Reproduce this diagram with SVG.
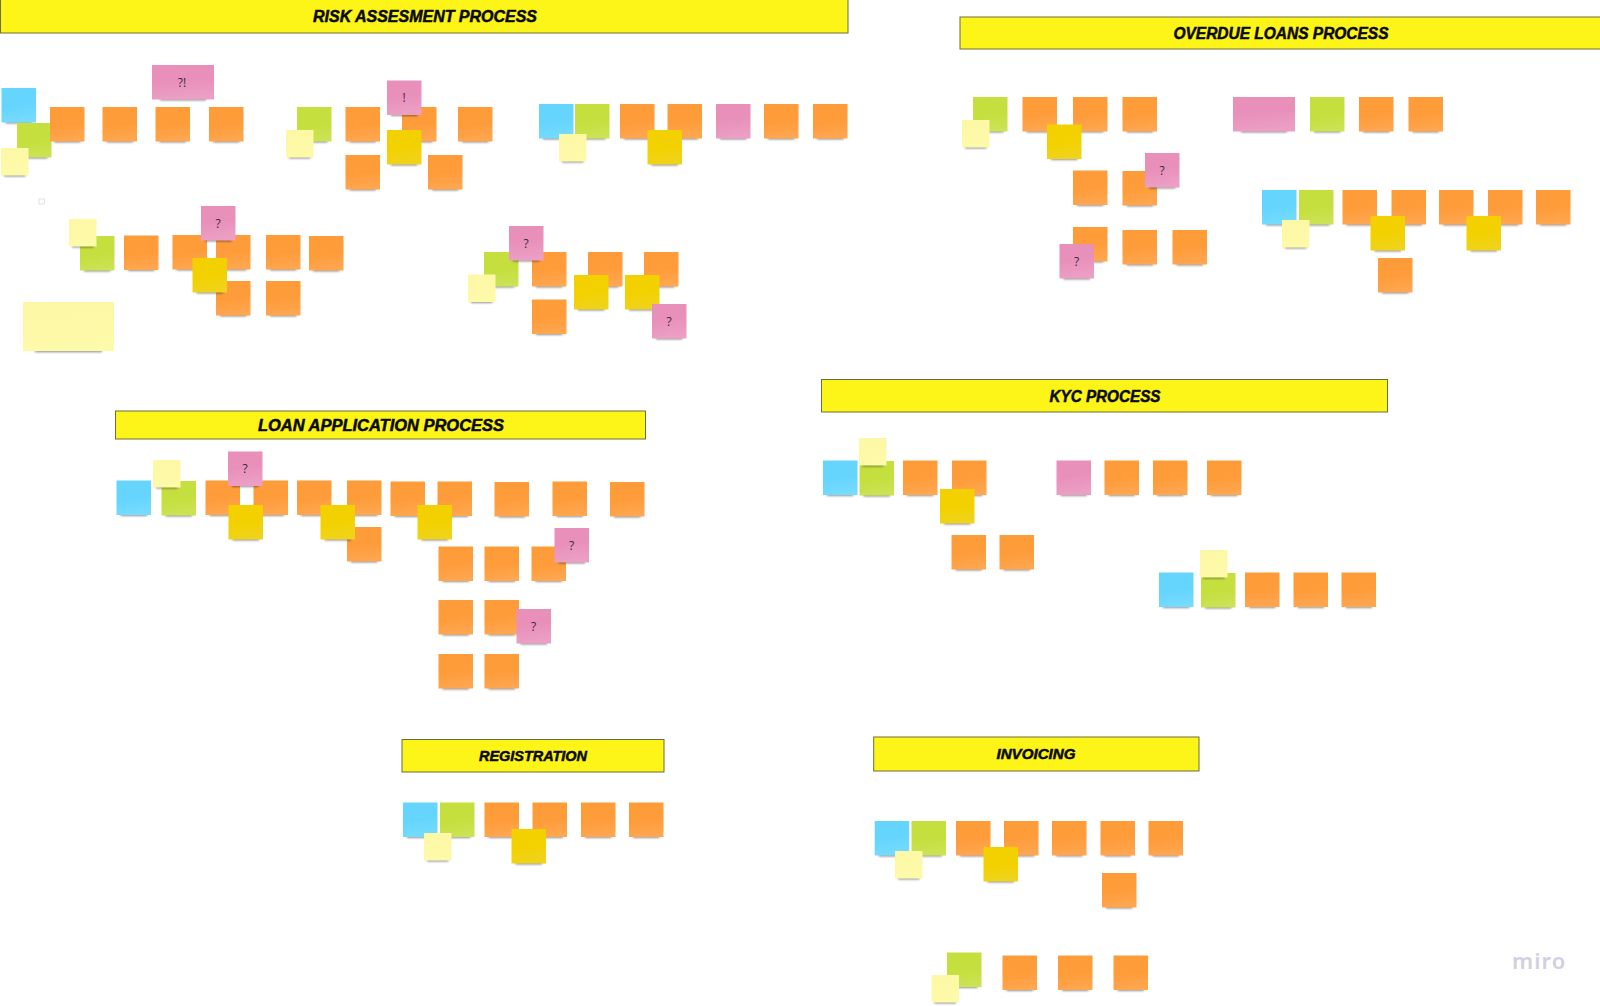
<svg xmlns="http://www.w3.org/2000/svg" width="1600" height="1006" viewBox="0 0 1600 1006">
<style>
text{font-family:"Liberation Sans",Arial,sans-serif}
.h rect{fill:#fef518;stroke:#6f6b3c;stroke-width:1}
.h text{font-size:16px;font-weight:700;font-style:italic;fill:#0a0a0a;stroke:#0a0a0a;stroke-width:.5;text-anchor:middle;dominant-baseline:central}
.q{font-family:"Open Sans","Liberation Sans",sans-serif;font-size:12px;fill:#3a2a3a;text-anchor:middle;dominant-baseline:central}
.o{fill:url(#go)}.b{fill:url(#gb)}.g{fill:url(#gg)}.l{fill:url(#gl)}.y{fill:url(#gy)}.p{fill:url(#gp)}
.sh{fill:#000;opacity:.42;filter:url(#bl)}
.m{font-family:"Noto Sans","Liberation Sans",sans-serif;font-size:22px;font-weight:600;fill:#d0d0e2;letter-spacing:1.1px}
</style>
<defs>
<filter id="bl" x="-20%" y="-100%" width="140%" height="300%"><feGaussianBlur stdDeviation="0.8"/></filter>
<linearGradient id="go" x1="0.2" y1="0" x2="0.35" y2="1"><stop offset="0.55" stop-color="#fe9c3a"/><stop offset="1" stop-color="#ffa650"/></linearGradient>
<linearGradient id="gb" x1="0.2" y1="0" x2="0.35" y2="1"><stop offset="0.55" stop-color="#66d5fd"/><stop offset="1" stop-color="#75dbff"/></linearGradient>
<linearGradient id="gg" x1="0.2" y1="0" x2="0.35" y2="1"><stop offset="0.55" stop-color="#c5df3e"/><stop offset="1" stop-color="#cbe354"/></linearGradient>
<linearGradient id="gl" x1="0.2" y1="0" x2="0.35" y2="1"><stop offset="0.3" stop-color="#fdf8a6"/><stop offset="1" stop-color="#fdfaa9"/></linearGradient>
<linearGradient id="gy" x1="0.2" y1="0" x2="0.35" y2="1"><stop offset="0.55" stop-color="#f3d100"/><stop offset="1" stop-color="#efd31c"/></linearGradient>
<linearGradient id="gp" x1="0.2" y1="0" x2="0.35" y2="1"><stop offset="0.45" stop-color="#e88fba"/><stop offset="1" stop-color="#ec9fc5"/></linearGradient>
<g id="sq"><rect class="sh" x="4" y="32.5" width="26.5" height="3"/><rect width="34.5" height="34.5"/></g>
<g id="lt"><rect class="sh" x="3" y="25.5" width="21.5" height="3"/><rect width="27.5" height="27.5"/></g>
<g id="wd"><rect class="sh" x="8" y="32.5" width="46" height="3"/><rect width="62" height="34.5"/></g>
<g id="bg"><rect class="sh" x="12" y="47" width="67" height="3.2"/><rect width="91" height="49"/></g>
</defs>
<rect width="1600" height="1006" fill="#fff"/>
<g id="connectors"/>

<g id="h-risk" class="h"><rect x="0.5" y="-1" width="847.5" height="34"/><text x="425" y="16.5" textLength="224" lengthAdjust="spacingAndGlyphs">RISK ASSESMENT PROCESS</text></g>
<g id="h-overdue" class="h"><rect x="960" y="17" width="650" height="32"/><text x="1281" y="33.5" textLength="215" lengthAdjust="spacingAndGlyphs">OVERDUE LOANS PROCESS</text></g>
<g id="h-loan" class="h"><rect x="115.5" y="411" width="530" height="28"/><text x="381" y="425" textLength="246" lengthAdjust="spacingAndGlyphs">LOAN APPLICATION PROCESS</text></g>
<g id="h-kyc" class="h"><rect x="821.5" y="379.5" width="566" height="32.5"/><text x="1105" y="396" textLength="111" lengthAdjust="spacingAndGlyphs">KYC PROCESS</text></g>
<g id="h-reg" class="h"><rect x="402" y="739.5" width="262" height="32.5"/><text x="533" y="756" style="font-size:14px" textLength="108" lengthAdjust="spacingAndGlyphs">REGISTRATION</text></g>
<g id="h-inv" class="h"><rect x="873.7" y="737" width="325.3" height="34"/><text x="1036" y="754" style="font-size:14px" textLength="79" lengthAdjust="spacingAndGlyphs">INVOICING</text></g>

<g id="r1-blue" class="b" transform="translate(1.5 88)"><use href="#sq"/></g>
<g id="r1-green" class="g" transform="translate(17 123)"><use href="#sq"/></g>
<g id="r1-note" class="l" transform="translate(1 148)"><use href="#lt"/></g>
<g id="r1-o1" class="o" transform="translate(50 107)"><use href="#sq"/></g>
<g id="r1-o2" class="o" transform="translate(102.5 107)"><use href="#sq"/></g>
<g id="r1-o3" class="o" transform="translate(155.5 107)"><use href="#sq"/></g>
<g id="r1-o4" class="o" transform="translate(209 107)"><use href="#sq"/></g>
<g id="r1-pink" class="p" transform="translate(152 65)"><use href="#wd"/><text class="q" x="30" y="17">?!</text></g>

<g id="r2-green" class="g" transform="translate(297 107)"><use href="#sq"/></g>
<g id="r2-note" class="l" transform="translate(286 130)"><use href="#lt"/></g>
<g id="r2-o1" class="o" transform="translate(345.5 107)"><use href="#sq"/></g>
<g id="r2-o2" class="o" transform="translate(402 107)"><use href="#sq"/></g>
<g id="r2-o3" class="o" transform="translate(458 107)"><use href="#sq"/></g>
<g id="r2-o4" class="o" transform="translate(345.5 155)"><use href="#sq"/></g>
<g id="r2-o5" class="o" transform="translate(428 155)"><use href="#sq"/></g>
<g id="r2-pink" class="p" transform="translate(387 80.5)"><use href="#sq"/><text class="q" x="17.2" y="17.2">!</text></g>
<g id="r2-yellow" class="y" transform="translate(387 130)"><use href="#sq"/></g>

<g id="r3-blue" class="b" transform="translate(539 104)"><use href="#sq"/></g>
<g id="r3-green" class="g" transform="translate(575 104)"><use href="#sq"/></g>
<g id="r3-note" class="l" transform="translate(559 134)"><use href="#lt"/></g>
<g id="r3-o1" class="o" transform="translate(620 104)"><use href="#sq"/></g>
<g id="r3-o2" class="o" transform="translate(667.5 104)"><use href="#sq"/></g>
<g id="r3-yellow" class="y" transform="translate(647.5 130)"><use href="#sq"/></g>
<g id="r3-pink" class="p" transform="translate(716 104)"><use href="#sq"/></g>
<g id="r3-o3" class="o" transform="translate(764 104)"><use href="#sq"/></g>
<g id="r3-o4" class="o" transform="translate(813 104)"><use href="#sq"/></g>

<g id="r4-mark"><rect x="39" y="199" width="5.5" height="5" fill="#fff" stroke="#d4d4d4" stroke-width=".7"/></g>
<g id="r4-green" class="g" transform="translate(80 236)"><use href="#sq"/></g>
<g id="r4-note" class="l" transform="translate(69 219)"><use href="#lt"/></g>
<g id="r4-o1" class="o" transform="translate(124 235.5)"><use href="#sq"/></g>
<g id="r4-o2" class="o" transform="translate(172.5 235)"><use href="#sq"/></g>
<g id="r4-o3" class="o" transform="translate(216 235)"><use href="#sq"/></g>
<g id="r4-o4" class="o" transform="translate(266 235)"><use href="#sq"/></g>
<g id="r4-o5" class="o" transform="translate(309 236)"><use href="#sq"/></g>
<g id="r4-pink" class="p" transform="translate(201 206)"><use href="#sq"/><text class="q" x="17.2" y="17.2">?</text></g>
<g id="r4-o6" class="o" transform="translate(216 281)"><use href="#sq"/></g>
<g id="r4-o7" class="o" transform="translate(266 281)"><use href="#sq"/></g>
<g id="r4-yellow" class="y" transform="translate(192.5 258)"><use href="#sq"/></g>
<g id="r4-big" class="l" transform="translate(23 302)"><use href="#bg"/></g>

<g id="r5-green" class="g" transform="translate(484 252)"><use href="#sq"/></g>
<g id="r5-note" class="l" transform="translate(468 274.5)"><use href="#lt"/></g>
<g id="r5-o1" class="o" transform="translate(532 252)"><use href="#sq"/></g>
<g id="r5-pink1" class="p" transform="translate(509 226)"><use href="#sq"/><text class="q" x="17.2" y="17.2">?</text></g>
<g id="r5-o2" class="o" transform="translate(588 252)"><use href="#sq"/></g>
<g id="r5-o3" class="o" transform="translate(644 252)"><use href="#sq"/></g>
<g id="r5-o4" class="o" transform="translate(532 299.5)"><use href="#sq"/></g>
<g id="r5-y1" class="y" transform="translate(574 275)"><use href="#sq"/></g>
<g id="r5-y2" class="y" transform="translate(625 275)"><use href="#sq"/></g>
<g id="r5-pink2" class="p" transform="translate(652 304)"><use href="#sq"/><text class="q" x="17.2" y="17.2">?</text></g>

<g id="o1-green" class="g" transform="translate(973 97)"><use href="#sq"/></g>
<g id="o1-note" class="l" transform="translate(962 120)"><use href="#lt"/></g>
<g id="o1-o1" class="o" transform="translate(1022.5 97)"><use href="#sq"/></g>
<g id="o1-o2" class="o" transform="translate(1073 97)"><use href="#sq"/></g>
<g id="o1-o3" class="o" transform="translate(1122.5 97)"><use href="#sq"/></g>
<g id="o1-yellow" class="y" transform="translate(1047 124.5)"><use href="#sq"/></g>
<g id="o1-o4" class="o" transform="translate(1073 170.5)"><use href="#sq"/></g>
<g id="o1-o5" class="o" transform="translate(1122.5 171)"><use href="#sq"/></g>
<g id="o1-pink1" class="p" transform="translate(1145 153)"><use href="#sq"/><text class="q" x="17.2" y="17.2">?</text></g>
<g id="o1-o6" class="o" transform="translate(1073 227)"><use href="#sq"/></g>
<g id="o1-pink2" class="p" transform="translate(1059.5 244)"><use href="#sq"/><text class="q" x="17.2" y="17.2">?</text></g>
<g id="o1-o7" class="o" transform="translate(1122.5 230)"><use href="#sq"/></g>
<g id="o1-o8" class="o" transform="translate(1172.5 230)"><use href="#sq"/></g>

<g id="o2-pink" class="p" transform="translate(1233 97)"><use href="#wd"/></g>
<g id="o2-green" class="g" transform="translate(1310 97)"><use href="#sq"/></g>
<g id="o2-o1" class="o" transform="translate(1359 97)"><use href="#sq"/></g>
<g id="o2-o2" class="o" transform="translate(1408.5 97)"><use href="#sq"/></g>

<g id="o3-blue" class="b" transform="translate(1262 190)"><use href="#sq"/></g>
<g id="o3-green" class="g" transform="translate(1299 190)"><use href="#sq"/></g>
<g id="o3-note" class="l" transform="translate(1282 220)"><use href="#lt"/></g>
<g id="o3-o1" class="o" transform="translate(1342.5 190)"><use href="#sq"/></g>
<g id="o3-o2" class="o" transform="translate(1391.5 190)"><use href="#sq"/></g>
<g id="o3-o3" class="o" transform="translate(1439 190)"><use href="#sq"/></g>
<g id="o3-o4" class="o" transform="translate(1488 190)"><use href="#sq"/></g>
<g id="o3-o5" class="o" transform="translate(1536 190)"><use href="#sq"/></g>
<g id="o3-y1" class="y" transform="translate(1370.5 216)"><use href="#sq"/></g>
<g id="o3-y2" class="y" transform="translate(1466.5 216)"><use href="#sq"/></g>
<g id="o3-o6" class="o" transform="translate(1378 258)"><use href="#sq"/></g>

<g id="l1-blue" class="b" transform="translate(116.5 480.5)"><use href="#sq"/></g>
<g id="l1-green" class="g" transform="translate(161.5 481)"><use href="#sq"/></g>
<g id="l1-note" class="l" transform="translate(153 460)"><use href="#lt"/></g>
<g id="l1-o1" class="o" transform="translate(205.5 480.5)"><use href="#sq"/></g>
<g id="l1-o2" class="o" transform="translate(253.5 480.5)"><use href="#sq"/></g>
<g id="l1-pink1" class="p" transform="translate(228 451.5)"><use href="#sq"/><text class="q" x="17.2" y="17.2">?</text></g>
<g id="l1-y1" class="y" transform="translate(228.5 505)"><use href="#sq"/></g>
<g id="l1-o3" class="o" transform="translate(297 480.5)"><use href="#sq"/></g>
<g id="l1-o4" class="o" transform="translate(347 480.5)"><use href="#sq"/></g>
<g id="l1-o5" class="o" transform="translate(347 527)"><use href="#sq"/></g>
<g id="l1-y2" class="y" transform="translate(320.5 505)"><use href="#sq"/></g>
<g id="l1-o6" class="o" transform="translate(390.5 481.5)"><use href="#sq"/></g>
<g id="l1-o7" class="o" transform="translate(437.5 481.5)"><use href="#sq"/></g>
<g id="l1-y3" class="y" transform="translate(417.5 505)"><use href="#sq"/></g>
<g id="l1-o8" class="o" transform="translate(494.5 482)"><use href="#sq"/></g>
<g id="l1-o9" class="o" transform="translate(552.5 481.5)"><use href="#sq"/></g>
<g id="l1-o10" class="o" transform="translate(610 482)"><use href="#sq"/></g>
<g id="l1-o11" class="o" transform="translate(438.5 546.5)"><use href="#sq"/></g>
<g id="l1-o12" class="o" transform="translate(484.5 546.5)"><use href="#sq"/></g>
<g id="l1-o13" class="o" transform="translate(531.5 546.5)"><use href="#sq"/></g>
<g id="l1-pink2" class="p" transform="translate(554.5 528)"><use href="#sq"/><text class="q" x="17.2" y="17.2">?</text></g>
<g id="l1-o14" class="o" transform="translate(438.5 600)"><use href="#sq"/></g>
<g id="l1-o15" class="o" transform="translate(484.5 600)"><use href="#sq"/></g>
<g id="l1-pink3" class="p" transform="translate(516.5 609)"><use href="#sq"/><text class="q" x="17.2" y="17.2">?</text></g>
<g id="l1-o16" class="o" transform="translate(438.5 654)"><use href="#sq"/></g>
<g id="l1-o17" class="o" transform="translate(484.5 654)"><use href="#sq"/></g>

<g id="k1-blue" class="b" transform="translate(823 460.5)"><use href="#sq"/></g>
<g id="k1-green" class="g" transform="translate(859.5 461)"><use href="#sq"/></g>
<g id="k1-note" class="l" transform="translate(859 438)"><use href="#lt"/></g>
<g id="k1-o1" class="o" transform="translate(903 460.5)"><use href="#sq"/></g>
<g id="k1-o2" class="o" transform="translate(952 460.5)"><use href="#sq"/></g>
<g id="k1-yellow" class="y" transform="translate(940 489)"><use href="#sq"/></g>
<g id="k1-o3" class="o" transform="translate(951.5 535)"><use href="#sq"/></g>
<g id="k1-o4" class="o" transform="translate(999.5 535)"><use href="#sq"/></g>

<g id="k2-pink" class="p" transform="translate(1056.5 460.5)"><use href="#sq"/></g>
<g id="k2-o1" class="o" transform="translate(1104.5 460.5)"><use href="#sq"/></g>
<g id="k2-o2" class="o" transform="translate(1153 460.5)"><use href="#sq"/></g>
<g id="k2-o3" class="o" transform="translate(1207 460.5)"><use href="#sq"/></g>

<g id="k3-blue" class="b" transform="translate(1159 572.5)"><use href="#sq"/></g>
<g id="k3-green" class="g" transform="translate(1201 573)"><use href="#sq"/></g>
<g id="k3-note" class="l" transform="translate(1200 550)"><use href="#lt"/></g>
<g id="k3-o1" class="o" transform="translate(1245 572.5)"><use href="#sq"/></g>
<g id="k3-o2" class="o" transform="translate(1293.5 572.5)"><use href="#sq"/></g>
<g id="k3-o3" class="o" transform="translate(1341.5 572.5)"><use href="#sq"/></g>

<g id="g1-blue" class="b" transform="translate(403 802.5)"><use href="#sq"/></g>
<g id="g1-green" class="g" transform="translate(440 802.5)"><use href="#sq"/></g>
<g id="g1-note" class="l" transform="translate(424 833)"><use href="#lt"/></g>
<g id="g1-o1" class="o" transform="translate(484.5 802.5)"><use href="#sq"/></g>
<g id="g1-o2" class="o" transform="translate(532.5 802.5)"><use href="#sq"/></g>
<g id="g1-o3" class="o" transform="translate(581 802.5)"><use href="#sq"/></g>
<g id="g1-o4" class="o" transform="translate(629 802.5)"><use href="#sq"/></g>
<g id="g1-yellow" class="y" transform="translate(511.5 829)"><use href="#sq"/></g>

<g id="i1-blue" class="b" transform="translate(874.7 821)"><use href="#sq"/></g>
<g id="i1-green" class="g" transform="translate(911.5 821)"><use href="#sq"/></g>
<g id="i1-note" class="l" transform="translate(895 851)"><use href="#lt"/></g>
<g id="i1-o1" class="o" transform="translate(956 821)"><use href="#sq"/></g>
<g id="i1-o2" class="o" transform="translate(1004 821)"><use href="#sq"/></g>
<g id="i1-yellow" class="y" transform="translate(983.5 847)"><use href="#sq"/></g>
<g id="i1-o3" class="o" transform="translate(1052 821)"><use href="#sq"/></g>
<g id="i1-o4" class="o" transform="translate(1100.5 821)"><use href="#sq"/></g>
<g id="i1-o5" class="o" transform="translate(1148.5 821)"><use href="#sq"/></g>
<g id="i1-o6" class="o" transform="translate(1102 873)"><use href="#sq"/></g>

<g id="i2-green" class="g" transform="translate(947 952.5)"><use href="#sq"/></g>
<g id="i2-note" class="l" transform="translate(931.5 975)"><use href="#lt"/></g>
<g id="i2-o1" class="o" transform="translate(1002.5 955.5)"><use href="#sq"/></g>
<g id="i2-o2" class="o" transform="translate(1058 955.5)"><use href="#sq"/></g>
<g id="i2-o3" class="o" transform="translate(1113.5 955.5)"><use href="#sq"/></g>

<g id="miro"><text class="m" x="1512" y="969">miro</text></g>
</svg>
